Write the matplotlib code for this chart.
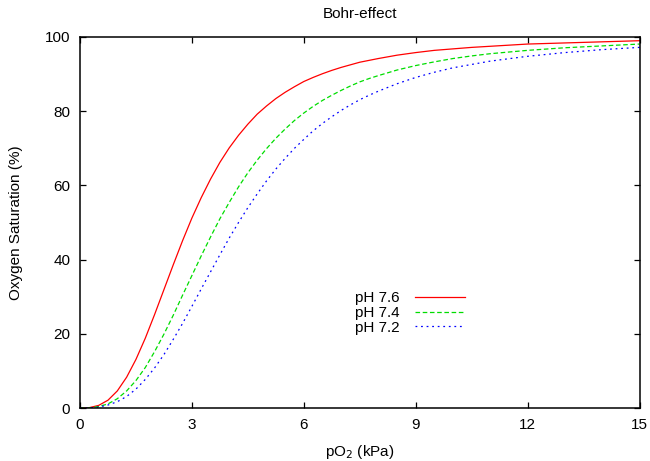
import matplotlib
matplotlib.use("Agg")
import matplotlib.pyplot as plt

plt.rcParams['font.family'] = ['Liberation Sans', 'DejaVu Sans']
plt.rcParams['lines.scale_dashes'] = False

# Partial pressure of oxygen (kPa)
po2 = [0, 0.25, 0.5, 0.75, 1.0, 1.25, 1.5, 1.75, 2.0, 2.25, 2.5, 2.75, 3.0,
       3.25, 3.5, 3.75, 4.0, 4.25, 4.5, 4.75, 5.0, 5.25, 5.5, 5.75, 6.0,
       6.25, 6.5, 6.75, 7.0, 7.25, 7.5, 7.75, 8.0, 8.5, 9.0, 9.5, 10, 10.5,
       11, 12, 13, 14, 15]

# Haemoglobin oxygen saturation (%) at three blood pH values
sat_ph76 = [0, 0.1, 0.7, 2.1, 4.6, 8.3, 13.1, 18.8, 25.2, 31.9, 38.6, 45.1, 51.2,
            56.7, 61.7, 66.2, 70.1, 73.5, 76.5, 79.2, 81.4, 83.4, 85.1, 86.6, 88.0,
            89.1, 90.1, 91.0, 91.8, 92.5, 93.2, 93.7, 94.2, 95.1, 95.8, 96.4, 96.8, 97.2,
            97.5, 98.1, 98.4, 98.7, 99.0]
sat_ph74 = [0, 0.05, 0.4, 1.1, 2.5, 4.6, 7.4, 10.9, 15.2, 19.9, 25.0, 30.4, 35.7,
            41.0, 46.1, 51.0, 55.4, 59.6, 63.4, 66.8, 69.9, 72.7, 75.2, 77.5, 79.5,
            81.3, 82.9, 84.3, 85.6, 86.8, 87.9, 88.8, 89.6, 91.1, 92.3, 93.3, 94.2, 94.9,
            95.5, 96.4, 97.1, 97.6, 98.1]
sat_ph72 = [0, 0.04, 0.25, 0.8, 1.7, 3.1, 5.1, 7.7, 10.8, 14.4, 18.5, 22.8, 27.4,
            32.1, 36.7, 41.3, 45.8, 50.0, 54.0, 57.7, 61.2, 64.4, 67.3, 70.0, 72.4,
            74.7, 76.7, 78.5, 80.2, 81.7, 83.1, 84.3, 85.4, 87.4, 89.1, 90.5, 91.7, 92.6,
            93.5, 94.8, 95.8, 96.6, 97.2]

series_labels = ['pH 7.6', 'pH 7.4', 'pH 7.2']
x_ticks = [0, 3, 6, 9, 12, 15]
y_ticks = [0, 20, 40, 60, 80, 100]

fig = plt.figure(figsize=(6.5, 4.61), dpi=100)
ax = fig.add_axes([80 / 650, 1 - 408 / 461, (639.5 - 80) / 650, (408 - 37) / 461])

lw = 0.9
common = dict(lw=lw, solid_joinstyle='round', dash_joinstyle='round')
ax.plot(po2, sat_ph76, color='#ff0000', ls='-', label=series_labels[0], **common)
ax.plot(po2, sat_ph74, color='#00dd00', ls=(0, (3.3, 1.9)), label=series_labels[1], **common)
ax.plot(po2, sat_ph72, color='#0000ff', ls=(0, (1.3, 2.7)), label=series_labels[2], **common)

ax.set_xlim(0, 15)
ax.set_ylim(0, 100)
ax.set_xticks(x_ticks)
ax.set_yticks(y_ticks)
ax.tick_params(direction='in', length=4, width=0.9, top=True, right=True,
               labelsize=11, pad=7, colors='black')
for s in ax.spines.values():
    s.set_linewidth(1.1)

ax.set_title('Bohr-effect', fontsize=11, pad=14)
ax.set_xlabel('pO$_2$ (kPa)', fontsize=11, labelpad=8)
ax.set_ylabel('Oxygen Saturation (%)', fontsize=11, labelpad=16)

leg = ax.legend(loc='center', bbox_to_anchor=(410 / 650, 1 - 313 / 461),
                bbox_transform=fig.transFigure, frameon=False, markerfirst=False,
                handlelength=3.3, handletextpad=1.0, labelspacing=0.05,
                fontsize=11, borderpad=0)
for t in leg.get_texts():
    t.set_ha('right')

fig.savefig('out.png', dpi=100)
